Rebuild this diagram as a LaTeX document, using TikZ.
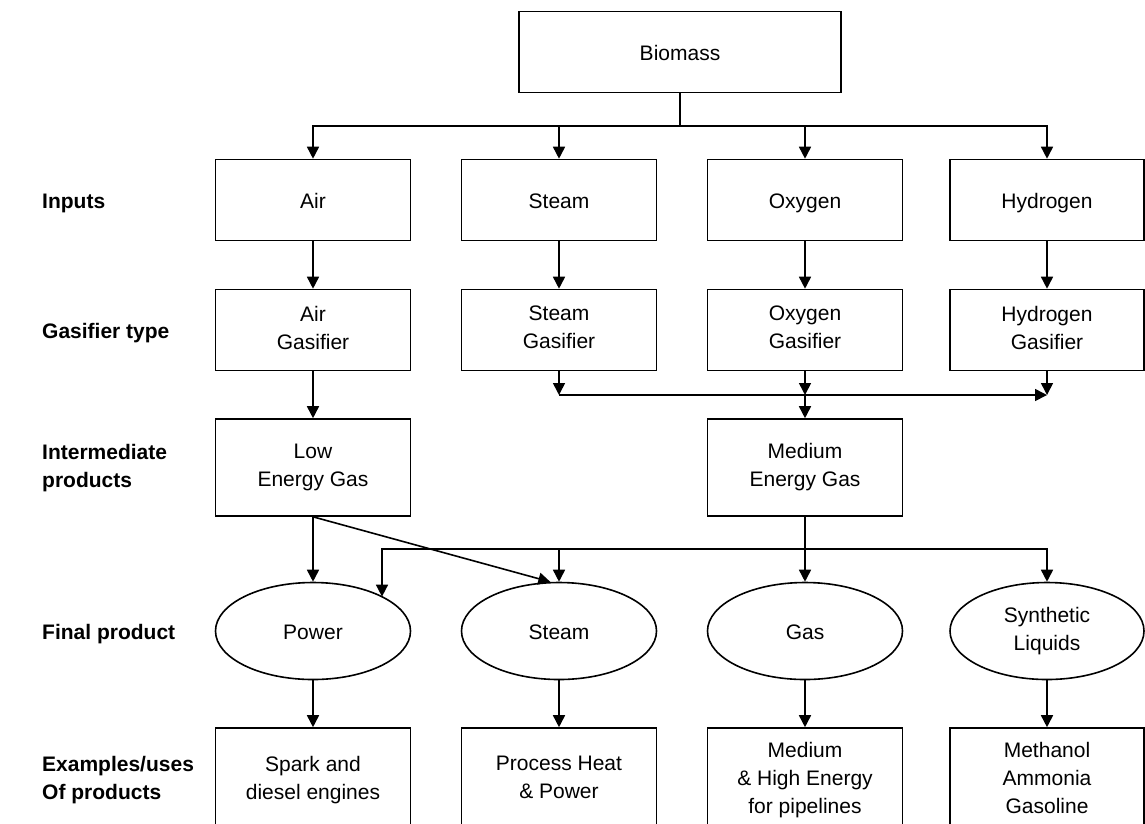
\documentclass[tikz,border=0pt]{standalone}
\usepackage{fontspec}
\setmainfont{Liberation Sans}
\usetikzlibrary{arrows.meta,shapes.geometric}
\newcommand\mytopstrut{\rule{0pt}{22pt}}
\newcommand\mybotstrut{\rule[-4.8pt]{0pt}{4.8pt}}
\begin{document}
\begin{tikzpicture}[x=1pt,y=-1pt,
  every node/.style={font=\fontsize{21}{28}\selectfont},
  txt/.style={execute at begin node=\mytopstrut,execute at end node=\mybotstrut},
  box/.style={draw,line width=1.6pt,minimum width=195pt,minimum height=81pt,inner sep=0pt,align=center,txt},
  oval/.style={draw,ellipse,line width=1.6pt,minimum width=195pt,minimum height=97pt,inner sep=0pt,align=center,txt},
  lab/.style={font=\bfseries\fontsize{21}{28}\selectfont,anchor=west,align=left,inner sep=0pt,txt},
  conn/.style={line width=1.6pt},
  arr/.style={line width=1.6pt,-{Triangle[length=12pt,width=12pt]}}]
\useasboundingbox (0,0) rectangle (1145,823);
% labels
\node[lab] (l1) at (42,200) {Inputs};
\node[lab] (l2) at (42,330) {Gasifier type};
\node[lab] (l3) at (42,468) {Intermediate\\products};
\node[lab] (l4) at (42,631) {Final product};
\node[lab] (l5) at (42,780) {Examples/uses\\Of products};
% nodes
\node[box,minimum width=322pt] (bio) at (680,52) {Biomass};
\node[box] (air) at (313,200) {Air};
\node[box] (steam) at (559,200) {Steam};
\node[box] (oxy) at (805,200) {Oxygen};
\node[box,minimum width=194pt] (hyd) at (1047,200) {Hydrogen};
\node[box] (airg) at (313,330) {Air\\Gasifier};
\node[box] (steamg) at (559,330) {Steam\\Gasifier};
\node[box] (oxyg) at (805,330) {Oxygen\\Gasifier};
\node[box,minimum width=194pt] (hydg) at (1047,330) {Hydrogen\\Gasifier};
\node[box,minimum height=97pt] (low) at (313,467.5) {Low\\Energy Gas};
\node[box,minimum height=97pt] (med) at (805,467.5) {Medium\\Energy Gas};
\node[oval] (powe) at (313,631) {Power};
\node[oval] (steame) at (559,631) {Steam};
\node[oval] (gase) at (805,631) {Gas};
\node[oval,minimum width=194pt] (syn) at (1047,631) {Synthetic\\Liquids};
\node[box,minimum height=104pt] (ex1) at (313,780) {Spark and\\diesel engines};
\node[box,minimum height=104pt] (ex2) at (559,780) {Process Heat\\\& Power};
\node[box,minimum height=104pt] (ex3) at (805,780) {Medium\\\& High Energy\\for pipelines};
\node[box,minimum height=104pt,minimum width=194pt] (ex4) at (1047,780) {Methanol\\Ammonia\\Gasoline};
% junctions
\coordinate (b0) at (680,126);
\coordinate (m1) at (559,395);
\coordinate (m2) at (805,395);
\coordinate (m3) at (1047,395);
\coordinate (d0) at (805,549);
\coordinate (d1) at (382,549);
\coordinate (d2) at (559,549);
% connectors
\draw[conn] (bio.south) -- (b0);
\draw[arr] (b0) -| (air.north);
\draw[arr] (b0) -| (steam.north);
\draw[arr] (b0) -| (oxy.north);
\draw[arr] (b0) -| (hyd.north);
\draw[arr] (air) -- (airg);
\draw[arr] (steam) -- (steamg);
\draw[arr] (oxy) -- (oxyg);
\draw[arr] (hyd) -- (hydg);
\draw[arr] (airg) -- (low);
\draw[arr] (steamg.south) -- (m1);
\draw[arr] (oxyg.south) -- (m2);
\draw[arr] (hydg.south) -- (m3);
\draw[arr] (m1) -- (m3);
\draw[arr] (m2) -- (med.north);
\draw[arr] (low.south) -- (powe.north);
\draw[arr] (low.south) -- (steame.100);
\draw[conn] (med.south) -- (d0);
\draw[arr] (d0) -- (gase.north);
\draw[arr] (d0) -- (d1) -- (d1 |- powe.26);
\draw[arr] (d2) -- (steame.north);
\draw[arr] (d0) -| (syn.north);
\draw[arr] (powe) -- (ex1);
\draw[arr] (steame) -- (ex2);
\draw[arr] (gase) -- (ex3);
\draw[arr] (syn) -- (ex4);
\end{tikzpicture}
\end{document}
